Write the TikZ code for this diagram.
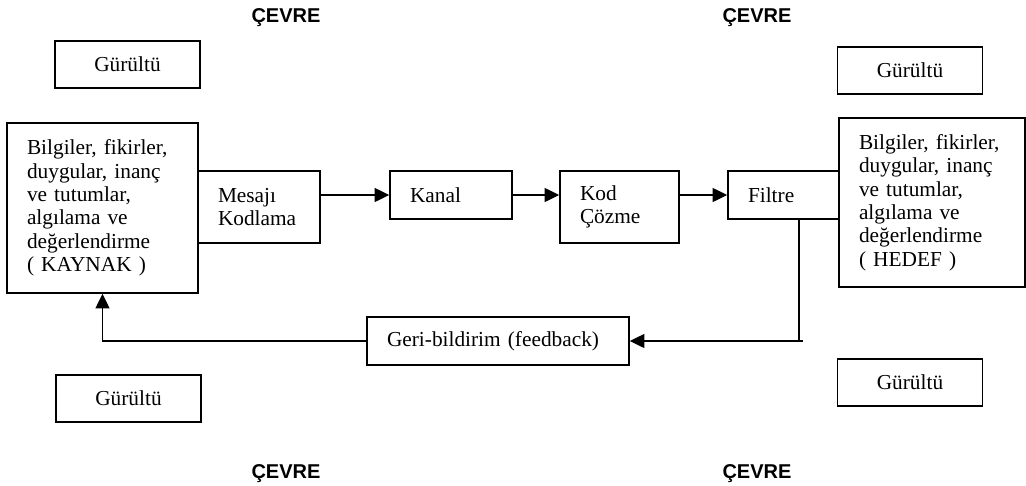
\documentclass[tikz,border=0pt]{standalone}
\usepackage{fontspec}
\setmainfont{Liberation Serif}
\newfontfamily\arialfont{Liberation Sans}
\usetikzlibrary{arrows.meta}
\begin{document}
\begin{tikzpicture}[x=0.75pt,y=-0.75pt,
  box/.style={draw, line width=1.2pt, inner ysep=0pt, inner xsep=15pt, align=left,
    font=\fontsize{16}{17.5}\selectfont},
  noise/.style={draw, line width=1.2pt, inner sep=0pt, minimum width=108.75pt,
    minimum height=35.25pt, font=\fontsize{16}{17.5}\selectfont},
  env/.style={anchor=base, inner sep=0pt, font=\arialfont\bfseries\fontsize{15}{18}\selectfont},
  conn/.style={line width=1.2pt, -{Triangle[length=11pt,width=10.5pt]}},
  plain/.style={line width=1.2pt}]
\useasboundingbox (0,0) rectangle (1026,486);

% environment labels
\node[env] (e1) at (286,22) {ÇEVRE};
\node[env] (e2) at (757,22) {ÇEVRE};
\node[env] (e3) at (286,478) {ÇEVRE};
\node[env] (e4) at (757,478) {ÇEVRE};

% noise boxes
\node[noise] (n1) at (127.5,64.5) {Gürültü};
\node[noise] (n2) at (910,70.5) {Gürültü};
\node[noise] (n3) at (128.5,398.5) {Gürültü};
\node[noise] (n4) at (910,382.5) {Gürültü};

% main chain
\node[box, minimum width=143.25pt, text width=113.25pt, minimum height=127.5pt] (src) at (102.5,208)
  {Bilgiler, fikirler,\\duygular, inanç\\ve tutumlar,\\algılama ve\\değerlendirme\\( KAYNAK )};
\node[box, minimum width=91.5pt, text width=61.5pt, minimum height=54pt] (enc) at (259,207)
  {Mesajı\\Kodlama};
\node[box, minimum width=91.5pt, text width=61.5pt, minimum height=36pt] (chan) at (451,195)
  {Kanal};
\node[box, minimum width=89.25pt, text width=59.25pt, minimum height=54pt] (dec) at (619.5,207)
  {Kod\\Çözme};
\node[box, minimum width=83.25pt, text width=53.25pt, minimum height=36pt] (filt) at (783.5,195)
  {Filtre};
\node[box, minimum width=139.5pt, text width=109.5pt, minimum height=126.75pt] (dst) at (932,202.5)
  {Bilgiler, fikirler,\\duygular, inanç\\ve tutumlar,\\algılama ve\\değerlendirme\\( HEDEF )};
\node[box, minimum width=196.5pt, text width=166.5pt, minimum height=36pt] (fb) at (498,341)
  {Geri-bildirim (feedback)};

% connectors
\draw[conn] (enc.east |- chan.west) -- (chan.west);
\draw[conn] (chan.east) -- (dec.west |- chan.east);
\draw[conn] (dec.east |- filt.west) -- (filt.west);

\coordinate (fstart) at ([xshift=11.6pt]filt.south);
\coordinate (fcorner) at (fstart |- fb.east);
\draw[plain] (fstart) -- (fcorner) -- ([xshift=3pt]fcorner);
\draw[conn] (fcorner) -- (fb.east);
\draw[conn] (fb.west) -| (src.south);
\end{tikzpicture}
\end{document}
